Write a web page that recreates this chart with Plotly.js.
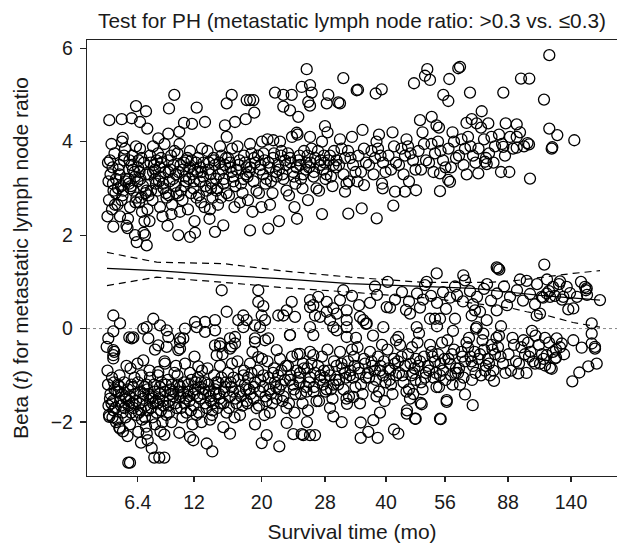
<!DOCTYPE html>
<html>
<head>
<meta charset="utf-8">
<script src="https://cdn.plot.ly/plotly-3.0.1.min.js"></script>
<style>html,body{margin:0;padding:0;background:#fff;}#chart{width:617px;height:546px;}</style>
</head>
<body>
<div id="chart"></div>
<script>
// x values are on the transformed survival-time scale used by the plot (tick positions below)
const tickPositions = [5.07, 10.7, 17.47, 23.8, 29.9, 35.8, 42.1, 48.4];
const tickLabels = ['6.4', '12', '20', '28', '40', '56', '88', '140'];

// residuals, upper group (metastatic lymph node ratio > 0.3)
const upperPts = [
[2.23,4.46],[3.47,4.48],[4.47,4.5],[4.9,4.76],[5.9,4.65],[5.3,4.42],[6.03,4.28],[8.2,4.71],[8.73,5.0],[7.13,4.07],[8.13,4.17],[9.23,4.21],[10.97,4.73],[9.7,4.4],[10.5,4.38],[11.8,4.42],[13.97,4.82],[14.47,5.0],[15.97,4.89],[16.3,4.89],[16.63,4.89],[16.73,4.62],[13.8,4.35],[14.8,4.42],[15.87,4.48],[18.8,5.05],[19.63,5.0],[20.47,5.0],[21.97,5.55],[21.47,5.17],[22.3,5.21],[22.47,5.05],[22.13,4.85],[22.3,4.77],[19.63,4.75],[20.3,4.67],[21.13,4.53],[24.13,5.0],[25.13,4.84],[23.97,4.82],[25.63,5.36],[23.8,4.33],[20.97,4.19],[18.63,4.03],[13.97,4.1],[3.57,4.08],
[46.23,5.85],[43.4,5.35],[44.23,5.35],[41.63,5.05],[45.7,4.9],[46.23,4.28],[47.03,4.14],[48.73,4.03],[46.47,3.85],[46.53,3.88],[44.3,3.21],[41.4,3.35],[42.23,3.35],[44.2,3.94],[44.05,3.97],[42.97,3.87],[42.97,4.1],[41.63,3.89],[41.87,4.39],[42.97,4.37],[40.13,4.39],[39.47,4.65],[38.47,4.48],[38.97,4.39],[38.3,5.05],[37.13,5.57],[37.3,5.6],[36.23,5.34],[35.63,5.0],[36.13,4.87],[34.03,5.55],[33.8,5.41],[34.3,5.32],[32.7,5.25],[34.47,4.53],[33.3,4.46],[28.87,5.03],[29.47,5.12],[26.97,5.1],[27.1,5.11],[25.3,4.82],
[26.13,2.46],[27.47,2.57],[28.97,2.36],[30.63,2.63],[35.3,2.94],[36.3,3.14],[36.13,3.18],[35.3,3.32],[37.97,3.3],[39.13,3.32],[39.8,3.57],[39.97,3.52],[32.9,2.96],[31.8,2.93],[30.8,2.93],[29.57,3.0],[27.7,3.07],[25.8,2.93],
[2.63,2.18],[4.97,1.85],[5.97,1.78],[4.8,2.0],[5.8,2.0],[10.3,1.96],[10.8,2.05],[12.8,2.07],[13.63,2.21],[18.13,2.14],[9.13,2.0],[16.3,2.1],[19.2,2.3],[21.0,2.35],[23.5,2.45],
[2.1,3.55],[2.35,3.3],[2.6,3.1],[2.85,2.9],[2.2,2.75],[2.5,2.55],[2.75,3.75],[2.45,3.95],[2.9,3.2],[2.05,2.4],
[3.7,3.6],[3.15,3.4],[3.9,3.2],[3.4,3.05],[3.55,2.85],[3.05,2.65],[3.3,2.4],[3.8,3.85],[3.25,3.3],[3.6,2.95],[3.95,2.2],[3.5,4.0],
[4.45,3.5],[4.8,3.25],[4.2,3.1],[4.65,2.95],[4.95,2.8],[4.3,2.6],[4.1,2.35],[4.55,3.7],[4.75,3.35],[4.35,3.0],[4.05,2.15],[4.9,3.9],
[5.1,3.45],[5.35,3.2],[5.6,3.05],[5.85,2.9],[5.2,2.7],[5.5,2.5],[5.75,2.3],[5.45,3.65],[5.9,3.3],[5.05,3.15],[5.65,2.05],[5.3,3.85],
[6.7,3.5],[6.15,3.3],[6.9,3.1],[6.4,2.95],[6.55,2.75],[6.05,2.55],[6.3,3.7],[6.8,3.4],[6.25,2.3],[6.6,3.9],
[7.45,3.55],[7.8,3.35],[7.2,3.15],[7.65,3.0],[7.95,2.8],[7.3,2.6],[7.1,3.75],[7.55,2.4],[7.75,3.95],[7.35,3.25],
[8.1,3.6],[8.35,3.4],[8.6,3.2],[8.85,3.05],[8.2,2.85],[8.5,2.65],[8.75,3.8],[8.45,2.45],[8.9,3.3],[8.05,2.2],
[9.7,3.55],[9.15,3.35],[9.9,3.15],[9.4,2.95],[9.55,2.75],[9.05,3.75],[9.3,2.5],[9.8,3.25],[9.25,3.95],
[10.45,3.6],[10.8,3.4],[10.2,3.2],[10.65,3.0],[10.95,2.8],[10.3,3.8],[10.1,2.55],[10.55,3.3],[10.75,2.3],
[11.1,3.65],[11.35,3.45],[11.6,3.25],[11.85,3.05],[11.2,2.85],[11.5,3.85],[11.75,2.6],[11.45,3.35],
[12.7,3.6],[12.15,3.4],[12.9,3.2],[12.4,3.0],[12.55,2.8],[12.05,3.8],[12.3,2.55],[12.8,3.5],[12.25,2.35],
[13.45,3.7],[13.8,3.5],[13.2,3.3],[13.65,3.1],[13.95,2.9],[13.3,3.9],[13.1,2.65],[13.55,3.4],
[14.1,3.65],[14.35,3.45],[14.6,3.25],[14.85,3.05],[14.2,2.85],[14.5,3.85],[14.75,2.6],[14.45,3.35],
[15.7,3.7],[15.15,3.5],[15.9,3.3],[15.4,3.1],[15.55,2.9],[15.05,3.9],[15.3,2.7],[15.8,3.55],
[16.45,3.75],[16.8,3.55],[16.2,3.35],[16.65,3.15],[16.95,2.95],[16.3,3.95],[16.1,2.75],[16.55,2.5],
[17.1,3.7],[17.35,3.5],[17.6,3.3],[17.85,3.1],[17.2,2.9],[17.5,4.0],[17.75,3.6],[17.45,2.6],
[18.7,3.75],[18.15,3.55],[18.9,3.35],[18.4,3.15],[18.55,2.9],[18.05,4.05],[18.3,2.65],
[19.45,3.8],[19.8,3.6],[19.2,3.4],[19.65,3.2],[19.95,2.95],[19.3,4.0],[19.1,3.5],
[20.1,3.75],[20.35,3.55],[20.6,3.35],[20.85,3.1],[20.2,2.85],[20.5,4.1],[20.75,2.6],
[21.7,3.8],[21.15,3.6],[21.9,3.4],[21.4,3.2],[21.55,3.0],[21.05,4.15],[21.3,3.5],
[22.45,3.85],[22.8,3.65],[22.2,3.45],[22.65,3.25],[22.95,3.0],[22.3,4.1],[22.1,2.75],
[23.1,3.8],[23.35,3.6],[23.6,3.4],[23.85,3.2],[23.2,2.95],[23.5,4.0],[23.75,3.55],
[24.7,3.8],[24.15,3.6],[24.9,3.45],[24.4,3.25],[24.55,3.05],[24.05,4.2],
[25.45,3.85],[25.8,3.65],[25.2,3.5],[25.65,3.3],[25.95,3.1],[25.3,4.05],
[26.1,3.8],[26.35,3.65],[26.6,3.5],[26.85,3.35],[26.2,3.15],[26.5,4.1],
[27.7,3.85],[27.15,3.7],[27.9,3.55],[27.4,3.35],[27.55,4.25],[27.05,3.15],
[28.45,3.8],[28.8,3.65],[28.2,3.5],[28.65,3.3],[28.95,4.0],
[29.1,3.85],[29.35,3.7],[29.6,3.55],[29.85,3.35],[29.2,4.15],[29.5,3.1],
[30.7,3.9],[30.15,3.7],[30.9,3.55],[30.4,3.4],[30.55,4.2],
[31.45,3.85],[31.8,3.7],[31.2,3.5],[31.65,3.3],[31.95,4.05],
[32.1,3.9],[32.35,3.75],[32.6,3.6],[32.85,3.4],[32.2,3.15],
[33.7,3.95],[33.15,3.8],[33.9,3.6],[33.4,3.4],[33.55,4.2],
[34.45,3.95],[34.8,3.75],[34.2,3.55],[34.65,3.35],[34.95,4.35],
[35.1,4.0],[35.35,3.8],[35.6,3.6],[35.85,3.45],[35.2,4.3],
[36.7,4.0],[36.15,3.85],[36.9,3.65],[36.4,3.45],[36.55,4.2],
[37.45,4.05],[37.8,3.85],[37.2,3.7],[37.65,3.5],[37.95,4.4],
[38.1,4.1],[38.35,3.9],[38.6,3.7],[38.85,3.55],
[39.7,4.05],[39.15,3.85],[39.9,3.65],[39.4,4.3],
[40.45,4.1],[40.8,3.9],[40.2,3.75],[40.65,3.55],
[41.2,4.15],[41.5,3.95],[41.8,3.7],[42.3,4.1],[42.6,3.85],[43.3,4.2],[43.7,3.9],
[2.55,3.45],[2.15,3.15],[2.8,2.65],[2.3,3.6],[2.65,2.95],
[3.25,3.5],[3.85,3.15],[3.45,2.75],[3.1,3.0],[3.7,3.7],
[4.6,3.4],[4.15,3.2],[4.85,2.7],[4.4,3.05],[4.25,3.6],
[5.7,3.55],[5.25,3.35],[5.95,2.95],[5.4,2.8],[5.15,3.6],
[6.35,3.55],[6.8,3.2],[6.15,2.85],[6.6,3.35],[6.95,3.6],
[7.25,3.45],[7.6,3.1],[7.9,2.9],[7.4,3.65],[7.05,2.95],
[8.65,3.5],[8.25,3.15],[8.95,2.9],[8.4,3.7],[8.15,3.35],
[9.35,3.5],[9.75,3.05],[9.15,2.85],[9.6,3.4],[9.95,3.6],
[10.25,3.45],[10.7,3.15],[10.9,3.55],[10.4,2.9],[10.05,3.65],
[11.65,3.55],[11.3,3.15],[11.95,2.95],[11.05,3.35],[11.4,2.7],
[12.35,3.3],[12.65,3.65],[12.95,2.95],[12.2,3.55],[12.5,3.1],
[13.25,3.55],[13.7,3.2],[13.05,3.0],[13.9,3.65],[13.4,2.8],
[14.3,3.55],[14.65,3.15],[14.95,3.4],[15.25,3.6],[15.65,3.2],[15.95,3.45],
[16.35,3.45],[16.7,3.65],[16.05,3.25],[17.3,3.4],[17.65,3.75],[17.95,3.2],
[18.25,3.45],[18.6,3.65],[18.95,3.25],[19.4,3.7],[19.55,3.3],[19.9,3.5],
[20.3,3.65],[20.7,3.25],[20.95,3.45],[21.25,3.7],[21.6,3.3],[21.95,3.55],
[22.35,3.55],[22.7,3.35],[22.05,3.7],[23.3,3.5],[23.7,3.7],[23.95,3.3],
[24.3,3.7],[24.65,3.5],[24.95,3.6]
];

// residuals in the band between the two groups
const middlePts = [
[45.73,1.37],[40.97,1.31],[41.23,1.26],[41.1,1.29],[34.97,1.18],[37.63,1.14],[37.8,1.03],[30.07,1.0],[33.97,1.0],[33.8,0.93],[43.3,1.05],[43.97,1.02],[47.3,1.01],[47.97,0.89],[49.8,0.89],[49.9,0.82],[51.3,0.61],[48.63,0.43],[48.13,0.41],[44.97,0.28],[50.47,-0.11],[50.47,0.11],[45.3,0.32],
[34.3,0.21],[34.8,0.21],[35.3,0.21],[36.8,0.21],[38.47,0.28],[38.8,0.39],[39.3,0.36],[38.97,0.03],[39.63,-0.11],[39.97,0.18],[40.97,0.39],[25.3,0.61],[25.97,0.39],[25.97,0.03],[27.63,0.18],[27.97,0.11],[27.3,0.25],[29.63,0.03],[31.13,-0.18],[32.97,0.03],[32.3,0.32],[29.97,0.46],
[28.3,0.55],[29.0,0.72],[30.8,0.62],[31.5,0.78],[32.2,0.58],[33.0,0.75],[33.6,0.62],[34.4,0.7],[35.0,0.55],[35.6,0.78],[36.3,0.66],[37.0,0.72],[37.6,0.58],[38.3,0.8],[39.0,0.68],[39.7,0.85],[40.4,0.6],[41.0,0.75],[41.7,0.9],[42.3,0.68],[43.0,0.82],[43.6,0.6],[44.3,0.74],[45.0,0.95],[45.6,0.66],[46.2,0.8],[46.8,0.7],[47.5,0.62],[48.3,0.76],[49.0,0.68],[26.5,0.7],[27.2,0.5],[28.8,0.9],[30.3,0.45],[31.9,0.4],[33.3,0.45],[35.9,0.42],[36.8,0.9],[38.6,0.52],[40.0,0.95],[42.0,0.5],[44.8,0.52],[46.0,1.05],[47.2,0.95],[49.4,1.0],[50.0,0.72],
[46.6,0.89],[45.97,0.75],[45.47,0.68],[46.3,0.68],[47.63,0.68],[49.97,0.86],
[2.63,0.28],[3.3,0.11],[2.63,-0.06],[2.13,-0.21],[1.97,-0.39],[2.63,-0.46],[2.63,-0.57],[4.47,-0.21],[6.13,-0.21],[5.63,0.0],[6.63,0.21],[5.97,0.03],[7.3,0.07],[7.97,-0.04],[8.13,-0.18],[9.3,-0.21],[9.63,-0.21],[9.3,-0.43],[9.8,0.0],[10.8,0.14],[10.97,0.03],[11.8,0.14],[11.8,-0.07],[12.8,0.18],[12.8,-0.04],[12.8,-0.36],[13.3,-0.38],[14.3,-0.43],[14.3,-0.21],[14.8,-0.32],[15.13,0.18],[15.63,0.28],[15.97,0.18],[15.63,0.03],[16.8,0.07],[17.3,0.03],[17.8,0.18],[17.47,0.28],[16.8,-0.21],[18.13,-0.21],[19.13,0.28],[19.63,0.28],[19.97,0.39],[20.47,0.57],[20.8,0.25],[20.3,-0.14],[22.3,0.61],[22.63,0.5],[23.13,0.68],[22.3,0.46],[22.8,0.28],[23.3,0.25],[23.97,0.57],[24.63,0.43],[24.97,0.32],[23.97,0.36],[24.3,0.18],[24.97,-0.04],[24.63,0.03],[25.97,0.18],[25.63,0.82],[22.3,0.03],[22.63,-0.14],[13.47,0.82],[17.13,0.82],[17.13,0.57],[17.63,0.48],[13.97,0.36],[6.8,-0.45],[7.13,-0.36],[7.97,-0.39],
[2.63,-0.64],[2.73,-0.5],[4.23,-0.19],[4.63,-0.19],[5.63,-0.68],[7.8,-0.75],[7.13,-0.93],[9.3,-0.29],[9.13,-0.46],[11.13,-0.81],[13.3,-0.32],[12.97,-0.57],[16.8,-0.29],[14.8,-0.18],[14.47,-0.38],[17.8,-0.25],[18.97,-0.46],[17.13,-0.61],[20.3,-0.14],[21.3,-0.54],[22.63,-0.57],[25.97,-0.18],
[26.9,-0.2],[28.6,-0.15],[30.9,-0.25],[33.2,-0.1],[36.6,-0.05],[38.9,0.0],[41.4,0.05],[44.5,-0.05],[27.9,0.1],[35.0,0.05]
];

// residuals, lower group (metastatic lymph node ratio <= 0.3)
const lowerPts = [
[4.13,-2.87],[4.3,-2.87],[6.73,-2.76],[7.23,-2.76],[7.73,-2.76],[5.4,-2.44],[6.47,-2.56],[6.07,-2.39],[5.13,-2.21],[7.73,-2.27],[9.23,-2.23],[10.3,-2.32],[10.63,-2.39],[11.97,-2.46],[12.53,-2.63],[14.3,-2.25],[13.63,-2.11],[17.47,-2.45],[17.97,-2.28],[19.23,-2.52],[19.97,-2.02],[20.63,-2.26],[21.47,-2.26],[2.23,-1.89],[3.23,-2.12],[5.97,-2.25],[16.8,-2.05],[27.37,-2.34],[29.07,-2.34],[28.13,-2.21],[30.7,-2.16],[31.13,-2.25],[35.37,-1.94],[31.97,-1.82],[32.8,-1.93],[27.37,-2.01],[28.63,-1.96],[29.3,-1.8],[25.47,-2.0],[24.63,-1.88],[22.8,-2.28],[22.3,-2.28],[21.63,-2.28],[38.57,-1.64],[35.97,-1.57],[33.37,-1.59],[3.3,-2.14],[22.0,-2.0],
[50.8,-0.39],[50.97,-0.75],[50.13,-0.81],[49.23,-0.94],[48.53,-1.13],[49.47,-0.41],[48.63,-0.25],[46.97,-0.21],[47.47,-0.32],[46.9,-0.62],[46.3,-0.84],[45.3,-0.75],[44.8,-0.75],[40.7,-1.12],[43.13,-0.96],[37.8,-1.41],[35.97,-1.53],[35.3,-1.93],[32.87,-1.93],[32.0,-1.75],[26.0,-1.61],[26.63,-1.46],[33.47,-1.62],[32.3,-1.5],[32.63,-1.4],[45.8,-0.79],[46.47,-0.86],[45.97,-0.57],[46.8,-0.64],[50.47,-0.32],[50.8,-0.43],
[2.1,-1.2],[2.35,-1.4],[2.6,-1.55],[2.85,-1.7],[2.2,-1.85],[2.5,-1.05],[2.75,-1.3],[2.45,-1.6],[2.9,-2.0],[2.05,-0.9],[2.65,-1.75],
[3.7,-1.15],[3.15,-1.35],[3.9,-1.5],[3.4,-1.65],[3.55,-1.8],[3.05,-1.95],[3.3,-1.25],[3.8,-1.45],[3.25,-1.0],[3.6,-2.2],[3.95,-0.8],
[4.45,-1.2],[4.8,-1.4],[4.2,-1.55],[4.65,-1.7],[4.95,-1.85],[4.3,-2.05],[4.1,-1.3],[4.55,-1.6],[4.75,-1.05],[4.35,-0.85],[4.05,-2.3],
[5.1,-1.15],[5.35,-1.35],[5.6,-1.5],[5.85,-1.65],[5.2,-1.8],[5.5,-1.95],[5.75,-1.25],[5.45,-1.0],[5.9,-2.1],[5.05,-0.75],
[6.7,-1.2],[6.15,-1.4],[6.9,-1.55],[6.4,-1.7],[6.55,-1.9],[6.05,-1.3],[6.3,-1.05],[6.8,-2.05],[6.25,-0.9],[6.6,-1.6],
[7.45,-1.15],[7.8,-1.35],[7.2,-1.5],[7.65,-1.65],[7.95,-1.85],[7.3,-1.25],[7.1,-1.0],[7.55,-2.0],[7.75,-0.7],[7.35,-2.2],
[8.1,-1.1],[8.35,-1.3],[8.6,-1.45],[8.85,-1.6],[8.2,-1.8],[8.5,-1.2],[8.75,-0.95],[8.45,-2.0],[8.9,-0.8],
[9.7,-1.15],[9.15,-1.35],[9.9,-1.5],[9.4,-1.7],[9.55,-1.9],[9.05,-1.0],[9.3,-1.25],[9.8,-0.75],
[10.45,-1.1],[10.8,-1.3],[10.2,-1.45],[10.65,-1.65],[10.95,-1.85],[10.3,-0.95],[10.1,-1.2],[10.55,-2.05],[10.75,-0.6],
[11.1,-1.05],[11.35,-1.25],[11.6,-1.4],[11.85,-1.6],[11.2,-1.8],[11.5,-0.9],[11.75,-1.15],[11.45,-2.0],
[12.7,-1.0],[12.15,-1.2],[12.9,-1.4],[12.4,-1.55],[12.55,-1.75],[12.05,-0.85],[12.3,-1.95],[12.8,-1.3],
[13.45,-1.05],[13.8,-1.25],[13.2,-1.4],[13.65,-1.6],[13.95,-1.8],[13.3,-0.8],[13.1,-1.15],[13.55,-0.55],
[14.1,-0.95],[14.35,-1.15],[14.6,-1.35],[14.85,-1.5],[14.2,-1.7],[14.5,-0.75],[14.75,-1.9],[14.45,-1.25],
[15.7,-0.9],[15.15,-1.1],[15.9,-1.3],[15.4,-1.45],[15.55,-1.65],[15.05,-0.7],[15.3,-1.85],[15.8,-1.2],
[16.45,-0.95],[16.8,-1.15],[16.2,-1.3],[16.65,-1.5],[16.95,-1.7],[16.3,-0.75],[16.1,-1.05],[16.55,-0.5],
[17.1,-0.9],[17.35,-1.1],[17.6,-1.25],[17.85,-1.45],[17.2,-1.65],[17.5,-0.65],[17.75,-1.85],
[18.7,-0.85],[18.15,-1.05],[18.9,-1.25],[18.4,-1.4],[18.55,-1.6],[18.05,-0.7],[18.3,-1.8],[18.8,-1.15],
[19.45,-0.9],[19.8,-1.1],[19.2,-1.3],[19.65,-1.45],[19.95,-1.7],[19.3,-0.65],[19.1,-1.0],
[20.1,-0.8],[20.35,-1.0],[20.6,-1.2],[20.85,-1.4],[20.2,-1.6],[20.5,-0.6],[20.75,-1.8],
[21.7,-0.85],[21.15,-1.05],[21.9,-1.25],[21.4,-1.4],[21.55,-1.6],[21.05,-0.55],[21.3,-0.95],
[22.45,-0.75],[22.8,-0.95],[22.2,-1.15],[22.65,-1.35],[22.95,-1.55],[22.3,-0.5],[22.1,-1.75],
[23.1,-0.8],[23.35,-1.0],[23.6,-1.2],[23.85,-1.35],[23.2,-1.55],[23.5,-0.6],[23.75,-1.05],
[24.7,-0.7],[24.15,-0.9],[24.9,-1.1],[24.4,-1.3],[24.55,-1.5],[24.05,-0.45],[24.3,-1.7],
[25.45,-0.75],[25.8,-0.95],[25.2,-1.1],[25.65,-1.3],[25.95,-1.5],[25.3,-0.5],[25.1,-1.2],
[26.1,-0.7],[26.35,-0.9],[26.6,-1.05],[26.85,-1.25],[26.2,-1.45],[26.5,-0.45],[26.75,-0.8],
[27.7,-0.65],[27.15,-0.85],[27.9,-1.05],[27.4,-1.2],[27.55,-1.4],[27.05,-0.4],[27.3,-1.6],
[28.45,-0.7],[28.8,-0.9],[28.2,-1.05],[28.65,-1.25],[28.95,-1.45],[28.3,-0.5],[28.1,-0.95],
[29.1,-0.6],[29.35,-0.8],[29.6,-1.0],[29.85,-1.15],[29.2,-1.35],[29.5,-0.35],[29.75,-1.55],
[30.7,-0.65],[30.15,-0.85],[30.9,-1.0],[30.4,-1.2],[30.55,-1.4],[30.05,-0.45],[30.3,-0.9],
[31.45,-0.6],[31.8,-0.8],[31.2,-0.95],[31.65,-1.15],[31.95,-1.35],[31.3,-0.35],
[32.1,-0.55],[32.35,-0.75],[32.6,-0.95],[32.85,-1.1],[32.2,-1.3],[32.5,-0.4],[32.75,-0.85],
[33.7,-0.6],[33.15,-0.8],[33.9,-0.95],[33.4,-1.15],[33.55,-1.3],[33.05,-0.3],
[34.45,-0.5],[34.8,-0.7],[34.2,-0.9],[34.65,-1.05],[34.95,-1.25],[34.3,-0.35],[34.1,-0.8],
[35.1,-0.55],[35.35,-0.75],[35.6,-0.9],[35.85,-1.1],[35.2,-1.25],[35.5,-0.3],
[36.7,-0.45],[36.15,-0.65],[36.9,-0.85],[36.4,-1.0],[36.55,-1.2],[36.05,-0.25],[36.3,-0.75],
[37.45,-0.5],[37.8,-0.7],[37.2,-0.85],[37.65,-1.05],[37.95,-0.3],[37.3,-1.2],
[38.1,-0.4],[38.35,-0.6],[38.6,-0.8],[38.85,-0.95],[38.2,-0.2],[38.5,-1.1],
[39.7,-0.45],[39.15,-0.65],[39.9,-0.8],[39.4,-1.0],[39.55,-0.25],
[40.45,-0.35],[40.8,-0.55],[40.2,-0.75],[40.65,-0.9],[40.95,-0.2],[40.3,-1.0],
[41.1,-0.4],[41.35,-0.6],[41.6,-0.75],[41.85,-0.95],[41.2,-0.15],
[42.7,-0.35],[42.15,-0.55],[42.9,-0.7],[42.4,-0.9],[42.55,-0.2],
[43.45,-0.4],[43.8,-0.55],[43.2,-0.75],[43.65,-0.25],[43.95,-0.95],
[44.1,-0.3],[44.35,-0.5],[44.6,-0.7],[44.85,-0.15],[44.2,-0.6],
[45.2,-0.35],[45.5,-0.55],[45.8,-0.2],[45.65,-0.65],[46.2,-0.3],[46.6,-0.5],[46.9,-0.45],[47.3,-0.4],[47.7,-0.55],
[2.3,-1.5],[2.7,-1.15],[2.15,-1.65],[2.55,-1.9],[2.95,-1.35],
[3.35,-1.55],[3.75,-1.7],[3.1,-1.2],[3.5,-1.4],[3.85,-1.9],
[4.25,-1.45],[4.6,-1.25],[4.9,-1.55],[4.4,-1.8],[4.15,-1.65],
[5.65,-1.4],[5.25,-1.6],[5.95,-1.2],[5.4,-1.75],[5.8,-1.9],
[6.35,-1.5],[6.75,-1.35],[6.1,-1.75],[6.5,-1.45],[6.95,-1.8],
[7.25,-1.4],[7.6,-1.55],[7.9,-1.2],[7.4,-1.75],[7.05,-1.6],
[8.65,-1.35],[8.25,-1.55],[8.95,-1.7],[8.4,-1.4],[8.15,-1.65],
[9.35,-1.45],[9.75,-1.6],[9.15,-1.2],[9.6,-1.35],[9.95,-1.8],
[10.25,-1.55],[10.7,-1.4],[10.9,-1.15],[10.4,-1.75],[10.05,-1.35],
[11.65,-1.3],[11.3,-1.5],[11.95,-1.7],[11.05,-1.45],[11.4,-1.15],
[12.35,-1.45],[12.65,-1.6],[12.95,-1.15],[12.2,-1.35],[12.5,-1.85],
[13.25,-1.5],[13.7,-1.35],[13.05,-1.7],[13.9,-1.15],[13.4,-1.6],
[14.3,-1.45],[14.65,-1.05],[14.95,-1.6],[15.25,-1.35],[15.65,-1.0],[15.95,-1.55],
[16.35,-1.4],[16.7,-1.25],[16.05,-1.6],[17.3,-1.35],[17.65,-1.0],[17.95,-1.55],
[18.25,-1.3],[18.6,-0.95],[18.95,-1.5],[19.4,-1.2],[19.55,-1.55],[19.9,-0.8],
[20.3,-1.1],[20.7,-1.3],[20.95,-0.9],[21.25,-1.15],[21.6,-0.75],[21.95,-1.35],
[22.35,-1.05],[22.7,-1.25],[22.05,-0.85],[23.3,-1.1],[23.7,-0.9],[23.95,-1.3],
[24.3,-1.0],[24.65,-1.2],[24.95,-0.8],[25.55,-0.85],[25.9,-1.05],
[26.3,-1.0],[26.7,-0.6],[27.25,-0.95],[27.8,-0.75],[28.55,-0.8],[28.9,-1.1],[29.3,-0.9],[29.7,-0.7],
[30.25,-1.1],[30.8,-0.75],[31.55,-1.0],[31.1,-0.7],[32.45,-1.0],[32.9,-0.65],[33.3,-0.7],[33.8,-1.05],
[34.55,-0.6],[34.9,-0.95],[35.3,-1.0],[35.75,-0.65],[36.5,-0.55],[36.85,-0.95],[37.55,-0.6],[37.1,-0.95],
[38.45,-0.7],[38.75,-0.5],[39.3,-0.55],[39.8,-0.9],[40.55,-0.45],[40.1,-0.65]
];

// smoothed beta(t) and its confidence band
const smoothX = [2.0, 6.97, 13.63, 19.3, 26.3, 33.6, 38.63, 45.3, 51.3];
const betaFit = [1.29, 1.24, 1.14, 1.07, 0.96, 0.9, 0.86, 0.71, 0.61];
const bandX = [2.0, 6.97, 13.63, 19.3, 26.3, 33.6, 38.0, 40.3, 42.6, 43.97, 46.0, 48.6, 51.3];
const bandUpper = [1.63, 1.42, 1.39, 1.24, 1.10, 0.99, 0.99, 0.99, 1.02, 1.06, 1.12, 1.18, 1.24];
const bandLower = [0.92, 1.10, 0.99, 0.88, 0.78, 0.66, 0.56, 0.5, 0.43, 0.36, 0.28, 0.13, 0.03];

const FONT = 'Liberation Sans, Arial, sans-serif';
const pts = [upperPts, middlePts, lowerPts];
const marker = {symbol: 'circle-open', size: 11, color: '#000', line: {width: 1.3, color: '#000'}};
const traces = pts.map(p => ({
  type: 'scatter', mode: 'markers',
  x: p.map(d => d[0]), y: p.map(d => d[1]),
  marker: marker, hoverinfo: 'skip', showlegend: false
}));
traces.push({type: 'scatter', mode: 'lines', x: smoothX, y: betaFit, line: {color: '#000', width: 1.2}, showlegend: false});
traces.push({type: 'scatter', mode: 'lines', x: bandX, y: bandUpper, line: {color: '#000', width: 1.2, dash: '7px,5px'}, showlegend: false});
traces.push({type: 'scatter', mode: 'lines', x: bandX, y: bandLower, line: {color: '#000', width: 1.2, dash: '7px,5px'}, showlegend: false});

const layout = {
  width: 617, height: 546,
  margin: {l: 87, r: 0, t: 40, b: 70},
  paper_bgcolor: '#fff', plot_bgcolor: '#fff',
  font: {family: FONT, size: 19.5, color: '#1a1a1a'},
  title: {text: 'Test for PH (metastatic lymph node ratio: &gt;0.3 vs. ≤0.3)', font: {family: FONT, size: 20.8, color: '#1a1a1a'},
          xref: 'paper', x: 0.5, xanchor: 'center', yref: 'container', y: 0.962, yanchor: 'middle'},
  xaxis: {range: [0, 53], showgrid: false, zeroline: false, showline: true, mirror: true, linecolor: '#222', linewidth: 1.2,
          ticks: 'outside', ticklen: 5, tickwidth: 1.2, tickcolor: '#222', ticklabelstandoff: 3,
          tickvals: tickPositions, ticktext: tickLabels, tickfont: {size: 19.5},
          title: {text: 'Survival time (mo)', font: {size: 21}, standoff: 12}},
  yaxis: {range: [-3.155, 6.175], showgrid: false, zeroline: false, showline: true, linecolor: '#222', linewidth: 1.2,
          ticks: 'outside', ticklen: 6, tickwidth: 1.2, tickcolor: '#222', ticklabelstandoff: 3,
          tickvals: [-2, 0, 2, 4, 6], tickfont: {size: 19.5},
          title: {text: 'Beta (<i>t</i>) for metastatic lymph node ratio', font: {size: 21}, standoff: 16}},
  shapes: [{type: 'line', xref: 'paper', x0: 0, x1: 1, yref: 'y', y0: 0, y1: 0, layer: 'below',
            line: {color: '#888', width: 1, dash: 'dot'}}]
};
Plotly.newPlot('chart', traces, layout, {staticPlot: true, displayModeBar: false});
</script>
</body>
</html>
